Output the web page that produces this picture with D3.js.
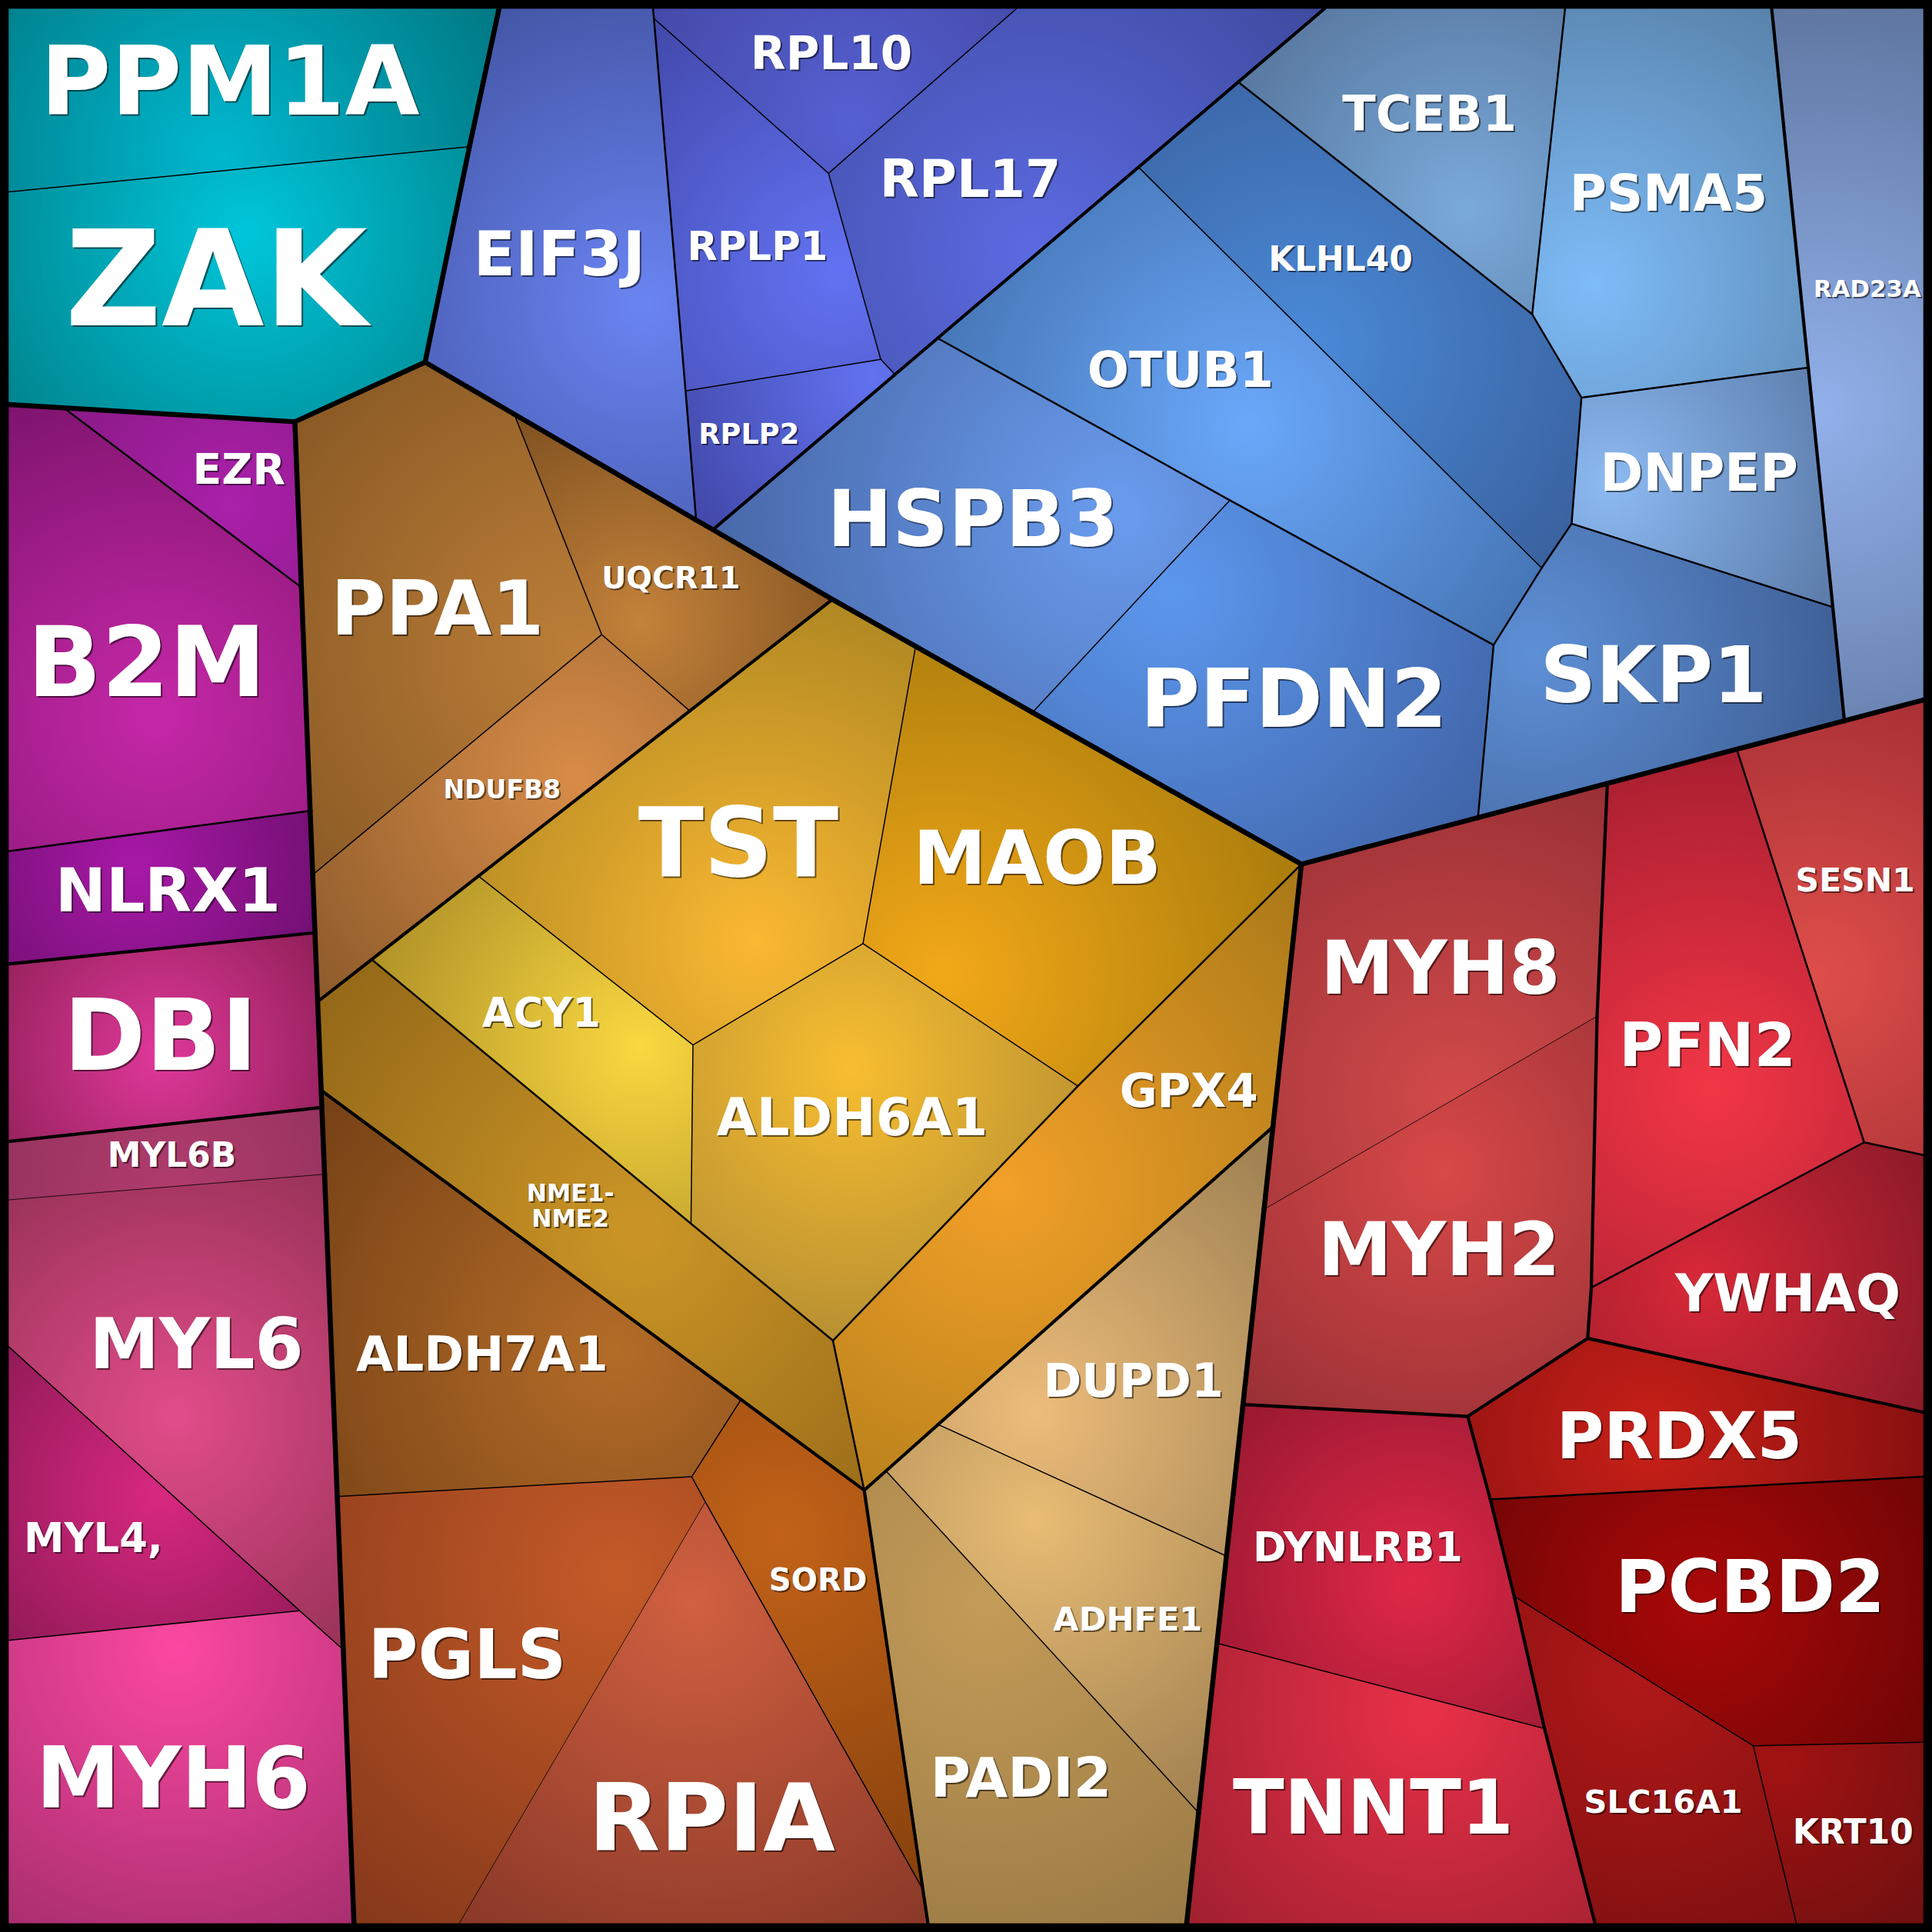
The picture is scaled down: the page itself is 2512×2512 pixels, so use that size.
<!DOCTYPE html>
<html>
<head>
<meta charset="utf-8">
<script src="https://cdn.jsdelivr.net/npm/d3@7"></script>
<style>
  body { margin: 0; background: #000; }
  svg { display: block; }
</style>
</head>
<body>
<div id="container"></div>
<script>
/* CONSTANTS AND GLOBALS */
const width = 2512,
  height = 2512,
  grid = 1568;

// line width by how deep two neighbouring cells share their hierarchy
const depthWidth = [6.5, 4.2, 2.5, 1.5, 0.8];

/* DATA */
const proteins = ["PPM1A", "ZAK", "EIF3J", "RPL10", "RPL17", "RPLP1", "RPLP2",
  "TCEB1", "PSMA5", "RAD23A", "DNPEP", "KLHL40", "OTUB1", "HSPB3", "SKP1", "PFDN2",
  "EZR", "B2M", "NLRX1", "DBI", "MYL6B", "MYL6", "MYL4,", "MYH6",
  "PPA1", "UQCR11", "NDUFB8", "TST", "MAOB", "ACY1", "ALDH6A1", "NME1-\nNME2", "GPX4",
  "DUPD1", "ADHFE1", "PADI2", "ALDH7A1", "PGLS", "SORD", "RPIA",
  "MYH8", "MYH2", "PFN2", "SESN1", "YWHAQ", "PRDX5", "PCBD2", "SLC16A1", "KRT10",
  "DYNLRB1", "TNNT1"]

// hierarchy path of each protein
const hierarchy = {
  "PPM1A": "teal/t/t", "ZAK": "teal/t/t",
  "EIF3J": "blue/rpl/e", "RPL10": "blue/rpl/r", "RPL17": "blue/rpl/r", "RPLP1": "blue/rpl/r", "RPLP2": "blue/rpl/r",
  "RAD23A": "blue/rad",
  "TCEB1": "blue/lb/t", "PSMA5": "blue/lb/p", "DNPEP": "blue/lb/d", "SKP1": "blue/lb/s",
  "KLHL40": "blue/lb/ko", "OTUB1": "blue/lb/ko", "HSPB3": "blue/lb/hp", "PFDN2": "blue/lb/hp",
  "EZR": "left/e", "B2M": "left/e", "NLRX1": "left/e", "DBI": "left/d",
  "MYL6B": "left/m/m/a", "MYL6": "left/m/m/a", "MYL4,": "left/m/m/c", "MYH6": "left/m/m/h",
  "PPA1": "or/ppa/x", "UQCR11": "or/ppa/x", "NDUFB8": "or/ppa/x",
  "TST": "or/gold/c", "MAOB": "or/gold/c", "ACY1": "or/gold/c", "ALDH6A1": "or/gold/c",
  "NME1-\nNME2": "or/gold/n", "GPX4": "or/gold/g",
  "DUPD1": "or/tan/t", "ADHFE1": "or/tan/t", "PADI2": "or/tan/t",
  "ALDH7A1": "or/al/a/x", "SORD": "or/al/a/s", "PGLS": "or/al/a/p", "RPIA": "or/al/a/p",
  "MYH8": "red/m/m/m", "MYH2": "red/m/m/m",
  "PFN2": "red/p", "SESN1": "red/p", "YWHAQ": "red/p",
  "PRDX5": "red/c/x", "PCBD2": "red/c/y", "SLC16A1": "red/c/y", "KRT10": "red/c/y",
  "DYNLRB1": "red/b/b", "TNNT1": "red/b/b"
}

// cell outlines
const outlines = {
  "PPM1A": [[7,7],[405,7],[381,119],[7,155.7]],
  "ZAK": [[7,155.7],[381,119],[345,294],[239.3,342.3],[51.7,331],[7,328.3]],
  "EIF3J": [[405,7],[530,7],[530.7,15],[556.4,317.3],[565,422.1],[417.3,336.1],[345,294],[381,119]],
  "RPL10": [[530,7],[825,7],[672.4,140.7],[530.7,15]],
  "RPL17": [[672.4,140.7],[825,7],[1075,7],[1005,66.6],[924,135.7],[761,274.5],[726.4,304],[714.8,291.7]],
  "RPLP1": [[530.7,15],[672.4,140.7],[714.8,291.7],[556.4,317.3]],
  "RPLP2": [[556.4,317.3],[714.8,291.7],[726.4,304],[578.7,429.9],[565,422.1]],
  "TCEB1": [[1005,66.6],[1075,7],[1270.2,7],[1243.5,255]],
  "PSMA5": [[1270.2,7],[1437.9,7],[1467.6,298.3],[1283.5,322.7],[1243.5,255]],
  "RAD23A": [[1437.9,7],[1561,7],[1561,568.1],[1496.9,585],[1487.5,492.7],[1467.6,298.3]],
  "DNPEP": [[1283.5,322.7],[1467.6,298.3],[1487.5,492.7],[1275.5,425]],
  "KLHL40": [[924,135.7],[1005,66.6],[1243.5,255],[1283.5,322.7],[1275.5,425],[1251.2,461]],
  "OTUB1": [[761,274.5],[924,135.7],[1251.2,461],[1212.2,523.5],[998.1,406]],
  "HSPB3": [[578.7,429.9],[726.4,304],[761,274.5],[998.1,406],[838,578.2],[675.6,486.5]],
  "SKP1": [[1275.5,425],[1487.5,492.7],[1496.9,585],[1409.5,608.1],[1304.5,635.8],[1199.5,663.6],[1212.2,523.5],[1251.2,461]],
  "PFDN2": [[998.1,406],[1212.2,523.5],[1199.5,663.6],[1056.2,701.4],[838,578.2]],
  "EZR": [[51.7,331],[239.3,342.3],[244.6,476.7]],
  "B2M": [[7,328.3],[51.7,331],[244.6,476.7],[251.7,658],[7,690.8]],
  "NLRX1": [[7,690.8],[251.7,658],[253.8,710],[255.6,757],[7,782.4]],
  "DBI": [[7,782.4],[255.6,757],[257.8,813],[260.7,885],[261.2,898.8],[7,926.4]],
  "MYL6B": [[7,926.4],[261.2,898.8],[263.4,953],[7,973.8]],
  "MYL6": [[7,973.8],[263.4,953],[273.7,1214.5],[278.6,1338.9],[243.3,1307.3],[7,1092.9]],
  "MYL4,": [[7,1092.9],[243.3,1307.3],[7,1331.2]],
  "MYH6": [[7,1331.2],[243.3,1307.3],[278.6,1338.9],[287.3,1561],[7,1561]],
  "PPA1": [[239.3,342.3],[345,294],[417.3,336.1],[488.3,515],[253.8,710],[251.7,658],[244.6,476.7]],
  "UQCR11": [[417.3,336.1],[565,422.1],[578.7,429.9],[675.6,486.5],[559.8,577],[488.3,515]],
  "NDUFB8": [[253.8,710],[488.3,515],[559.8,577],[388.3,711],[301.7,778.7],[257.8,813],[255.6,757]],
  "TST": [[675.6,486.5],[743.1,524.6],[700.4,765.8],[562.4,848.1],[388.3,711],[559.8,577]],
  "MAOB": [[743.1,524.6],[838,578.2],[1056.2,701.4],[874.8,881.4],[700.4,765.8]],
  "ACY1": [[388.3,711],[562.4,848.1],[560.8,993.1],[301.7,778.7]],
  "ALDH6A1": [[562.4,848.1],[700.4,765.8],[874.8,881.4],[676,1088],[560.8,993.1]],
  "NME1-\nNME2": [[301.7,778.7],[560.8,993.1],[676,1088],[701.4,1209.5],[601.4,1135.9],[260.7,885],[257.8,813]],
  "GPX4": [[874.8,881.4],[1056.2,701.4],[1033.1,914.5],[761.4,1156.1],[719.1,1193.8],[701.4,1209.5],[676,1088]],
  "DUPD1": [[761.4,1156.1],[1033.1,914.5],[1025.9,981.5],[1008.8,1139.9],[995.4,1262.9]],
  "ADHFE1": [[719.1,1193.8],[761.4,1156.1],[995.4,1262.9],[987.7,1333.6],[972.8,1471.2]],
  "PADI2": [[701.4,1209.5],[719.1,1193.8],[972.8,1471.2],[963.1,1561],[753.1,1561],[749,1533.5]],
  "ALDH7A1": [[260.7,885],[601.4,1135.9],[561.4,1198.5],[273.7,1214.5],[263.4,953],[261.2,898.8]],
  "PGLS": [[273.7,1214.5],[561.4,1198.5],[572.4,1218.9],[372.7,1561],[287.3,1561],[278.6,1338.9]],
  "SORD": [[601.4,1135.9],[701.4,1209.5],[749,1533.5],[572.4,1218.9],[561.4,1198.5]],
  "RPIA": [[572.4,1218.9],[749,1533.5],[753.1,1561],[372.7,1561]],
  "MYH8": [[1056.2,701.4],[1199.5,663.6],[1304.5,635.8],[1296.2,824.8],[1025.9,981.5],[1033.1,914.5]],
  "MYH2": [[1025.9,981.5],[1296.2,824.8],[1291.5,1045],[1288.5,1086.2],[1191.2,1149.5],[1008.8,1139.9]],
  "PFN2": [[1304.5,635.8],[1409.5,608.1],[1512.9,927.1],[1291.5,1045],[1296.2,824.8]],
  "SESN1": [[1409.5,608.1],[1496.9,585],[1561,568.1],[1561,937.4],[1512.9,927.1]],
  "YWHAQ": [[1512.9,927.1],[1561,937.4],[1561,1146.2],[1288.5,1086.2],[1291.5,1045]],
  "PRDX5": [[1191.2,1149.5],[1288.5,1086.2],[1561,1146.2],[1561,1198.5],[1209.5,1216.9]],
  "PCBD2": [[1209.5,1216.9],[1561,1198.5],[1561,1413.9],[1422.9,1416.9],[1228.9,1295.5]],
  "SLC16A1": [[1228.9,1295.5],[1422.9,1416.9],[1457.9,1561],[1294.5,1561],[1253.5,1402.9]],
  "KRT10": [[1422.9,1416.9],[1561,1413.9],[1561,1561],[1457.9,1561]],
  "DYNLRB1": [[1008.8,1139.9],[1191.2,1149.5],[1209.5,1216.9],[1228.9,1295.5],[1253.5,1402.9],[987.7,1333.6],[995.4,1262.9]],
  "TNNT1": [[987.7,1333.6],[1253.5,1402.9],[1294.5,1561],[963.1,1561],[972.8,1471.2]]
}

/* STYLES */
// [light centre, dark rim, centre x, centre y] of each cell's glow
const shading = {
  "PPM1A": ["#00b8cf", "#007883", 180, 127], "ZAK": ["#00c6da", "#00858f", 200, 190],
  "EIF3J": ["#6a84f2", "#4456a6", 522, 247], "RPL10": ["#5560d2", "#4549a8", 690, 100],
  "RPL17": ["#5c6ae2", "#3e4a9e", 840, 205], "RPLP1": ["#6272f2", "#4248aa", 680, 220],
  "RPLP2": ["#6272f0", "#4248a8", 708, 305], "TCEB1": ["#7aaada", "#5878a0", 1190, 170],
  "PSMA5": ["#7ebcf8", "#5882aa", 1293, 230], "RAD23A": ["#92b0ea", "#5e76a0", 1476, 333],
  "DNPEP": ["#8cbaf2", "#5a7aa8", 1306, 393], "KLHL40": ["#4a8ad8", "#3a62a0", 1060, 280],
  "OTUB1": ["#6aa8fa", "#4676b6", 1013, 345], "HSPB3": ["#6a9cee", "#4868a8", 906, 417],
  "SKP1": ["#5e90d6", "#3e5e94", 1246, 530], "PFDN2": ["#5c98ee", "#4064a8", 950, 480],
  "EZR": ["#aa20aa", "#8a1a86", 187, 410], "B2M": ["#c628a8", "#7e146e", 127, 580],
  "NLRX1": ["#a818a8", "#721072", 110, 703], "DBI": ["#e0389a", "#902058", 130, 856],
  "MYL6B": ["#b03c6c", "#983360", 140, 965], "MYL6": ["#e24c8a", "#983258", 143, 1150],
  "MYL4,": ["#d82880", "#921a58", 130, 1213], "MYH6": ["#fc48a2", "#a82e6e", 143, 1339],
  "PPA1": ["#bc7e38", "#8a5a25", 467, 525], "UQCR11": ["#c4823a", "#7e5020", 520, 505],
  "NDUFB8": ["#d88c48", "#8c5a2a", 467, 630], "TST": ["#fab832", "#b08822", 613, 763],
  "MAOB": ["#f2a818", "#aa7c0c", 766, 790], "ACY1": ["#fad840", "#b09228", 520, 850],
  "ALDH6A1": ["#f8be30", "#b89032", 690, 866], "NME1-\nNME2": ["#cc9626", "#946818", 520, 1000],
  "GPX4": ["#f2a028", "#a87818", 813, 963], "DUPD1": ["#ecbc7a", "#9a7e50", 840, 1146],
  "ADHFE1": ["#e8bc74", "#a08050", 840, 1233], "PADI2": ["#c49c58", "#9a7a45", 800, 1300],
  "ALDH7A1": ["#b46c28", "#744015", 500, 1096], "PGLS": ["#c45a28", "#85381a", 500, 1279],
  "SORD": ["#c26218", "#85400c", 633, 1246], "RPIA": ["#d06040", "#8a3828", 563, 1300],
  "MYH8": ["#d24a4a", "#983035", 1180, 890], "MYH2": ["#d84848", "#983035", 1170, 950],
  "PFN2": ["#f23646", "#a81f30", 1389, 883], "SESN1": ["#de4e4a", "#a83035", 1476, 790],
  "YWHAQ": ["#d82838", "#8c1a28", 1380, 1040], "PRDX5": ["#c82018", "#881010", 1339, 1166],
  "PCBD2": ["#aa0808", "#700505", 1380, 1300], "SLC16A1": ["#b01818", "#801010", 1330, 1363],
  "KRT10": ["#a21212", "#701010", 1446, 1430], "DYNLRB1": ["#e02848", "#981830", 1146, 1283],
  "TNNT1": ["#e83048", "#a02030", 1156, 1390]
}

// [centre x, centre y of capitals, font size]
const labelStyle = {
  "PPM1A": [186.7, 64.7, 78.3], "ZAK": [175.5, 225, 107.8], "EIF3J": [454, 205.4, 49.8],
  "RPL10": [674.8, 42.5, 37.2], "RPL17": [787.5, 144.5, 41.7], "RPLP1": [614.8, 199.3, 32],
  "RPLP2": [607.8, 351.7, 22.9], "TCEB1": [1160.2, 91.3, 39.8], "PSMA5": [1354.2, 155.8, 41],
  "RAD23A": [1515.5, 233.7, 19.2], "KLHL40": [1088, 210, 27.4], "OTUB1": [958.1, 299.5, 39.8],
  "DNPEP": [1379, 383, 42.1], "HSPB3": [789.8, 420, 63.2], "SKP1": [1342, 546.8, 63],
  "PFDN2": [1050, 565.6, 65.9], "EZR": [194, 380.3, 34.5], "B2M": [119, 536, 79],
  "PPA1": [355, 492.8, 60.8], "UQCR11": [544.5, 468.3, 24.7], "NDUFB8": [407.5, 640.6, 20.6],
  "TST": [599.2, 682.3, 78], "MAOB": [841.8, 695.3, 59.6], "NLRX1": [136.3, 721.8, 49.3],
  "DBI": [130.3, 839.3, 80.3], "ACY1": [439.3, 821.1, 32.9], "GPX4": [964.8, 884.8, 37.2],
  "ALDH6A1": [691.6, 906.1, 42], "MYH8": [1169, 784.9, 59.8], "PFN2": [1385.8, 847.5, 48.6],
  "SESN1": [1505.7, 713.5, 26.5], "MYL6B": [139.5, 937.1, 27.4], "NME1-\nNME2": [463, 978.4, 19.6],
  "MYH2": [1167.9, 1012.8, 60.5], "YWHAQ": [1451, 1049, 42.7], "MYL6": [159.5, 1089.6, 57],
  "ALDH7A1": [391.3, 1098.2, 39], "DUPD1": [919.8, 1120, 37.5], "PRDX5": [1362.9, 1164.5, 52.5],
  "MYL4,": [75.8, 1247.5, 32.9], "DYNLRB1": [1102, 1254.9, 32.9], "SORD": [663.9, 1282, 25.1],
  "PCBD2": [1420.4, 1287, 58.4], "ADHFE1": [915.3, 1313.7, 26.9], "PGLS": [379.2, 1342, 55.3],
  "PADI2": [828.6, 1441.7, 44.4], "MYH6": [140.7, 1442, 68.6], "TNNT1": [1114.5, 1465.9, 61],
  "SLC16A1": [1349.9, 1461.7, 26], "RPIA": [577.7, 1474.2, 75.7], "KRT10": [1503.9, 1486.2, 27.4]
}

/* SCALES */
const xScale = d3.scaleLinear().domain([0, grid]).range([0, width])
const yScale = d3.scaleLinear().domain([0, grid]).range([0, height])
const px = d3.scaleLinear().domain([0, grid]).range([0, width]) // lengths

/* HTML ELEMENTS */
const svg = d3.select("#container")
  .append("svg")
  .attr("width", width)
  .attr("height", height)

svg.append("rect")
  .attr("width", width)
  .attr("height", height)
  .attr("fill", "#000")

// radial glow per cell
const defs = svg.append("defs")
proteins.forEach((p, i) => {
  const [c0, c1, gx, gy] = shading[p]
  const r = d3.max(outlines[p], v => Math.hypot(v[0] - gx, v[1] - gy))
  const g = defs.append("radialGradient")
    .attr("id", "glow" + i)
    .attr("gradientUnits", "userSpaceOnUse")
    .attr("cx", xScale(gx)).attr("cy", yScale(gy))
    .attr("r", px(r))
  g.append("stop").attr("offset", 0).attr("stop-color", c0)
  g.append("stop").attr("offset", 1).attr("stop-color", c1)
})

const line = d3.line().x(d => xScale(d[0])).y(d => yScale(d[1])).curve(d3.curveLinearClosed)

// cells
svg.selectAll("path.cell")
  .data(proteins)
  .join("path")
  .attr("class", "cell")
  .attr("d", p => line(outlines[p]))
  .attr("fill", (p, i) => `url(#glow${i})`)
  .attr("stroke", (p, i) => `url(#glow${i})`)
  .attr("stroke-width", 0.6)

/* BORDERS */
// split every edge at vertices lying on it, then weight each piece by the
// depth the two cells on either side still have in common
const key = v => v[0].toFixed(1) + "," + v[1].toFixed(1)
const vertices = new Map()
proteins.forEach(p => outlines[p].forEach(v => vertices.set(key(v), v)))
const vlist = [...vertices.values()]

const pieces = new Map()
proteins.forEach(p => {
  const poly = outlines[p]
  poly.forEach((a, i) => {
    const b = poly[(i + 1) % poly.length]
    const dx = b[0] - a[0], dy = b[1] - a[1], len2 = dx * dx + dy * dy
    const inner = []
    vlist.forEach(v => {
      const t = ((v[0] - a[0]) * dx + (v[1] - a[1]) * dy) / len2
      if (t <= 0.002 || t >= 0.998) return
      const d = Math.hypot(v[0] - (a[0] + t * dx), v[1] - (a[1] + t * dy))
      if (d < 1.3) inner.push({ v, t })
    })
    inner.sort((m, n) => m.t - n.t)
    const chain = [a, ...inner.map(o => o.v), b]
    for (let j = 0; j < chain.length - 1; j++) {
      const k = [key(chain[j]), key(chain[j + 1])].sort().join("|")
      if (!pieces.has(k)) pieces.set(k, { a: chain[j], b: chain[j + 1], cells: [] })
      pieces.get(k).cells.push(p)
    }
  })
})

const shared = (p, q) => {
  const a = hierarchy[p].split("/"), b = hierarchy[q].split("/")
  let d = 0
  while (d < a.length && d < b.length && a[d] === b[d]) d++
  return d
}

const borders = [...pieces.values()]
  .filter(e => e.cells.length > 1)
  .map(e => ({ ...e, w: depthWidth[Math.min(shared(e.cells[0], e.cells[1]), depthWidth.length - 1)] }))
  .sort((m, n) => m.w - n.w)

svg.append("g")
  .selectAll("line")
  .data(borders)
  .join("line")
  .attr("x1", d => xScale(d.a[0]))
  .attr("y1", d => yScale(d.a[1]))
  .attr("x2", d => xScale(d.b[0]))
  .attr("y2", d => yScale(d.b[1]))
  .attr("stroke", "#000")
  .attr("stroke-width", d => d.w)
  .attr("stroke-linecap", "round")

// frame
svg.append("rect")
  .attr("x", xScale(3.5)).attr("y", yScale(3.5))
  .attr("width", xScale(grid - 7)).attr("height", yScale(grid - 7))
  .attr("fill", "none")
  .attr("stroke", "#000")
  .attr("stroke-width", px(7))

/* LABELS */
const labels = svg.append("g")
  .attr("font-family", "'DejaVu Sans', sans-serif")
  .attr("font-weight", "bold")
  .attr("text-anchor", "middle")

function addLabel(p, dx, dy, fill, opacity) {
  const [cx, cy, fs] = labelStyle[p]
  const rows = p.split("\n")
  const size = px(fs)
  const t = labels.append("text")
    .attr("font-size", size)
    .attr("fill", fill)
    .attr("fill-opacity", opacity)
  rows.forEach((row, i) => {
    const off = (i - (rows.length - 1) / 2) * 1.05 * size + 0.3645 * size
    t.append("tspan")
      .attr("x", xScale(cx) + dx)
      .attr("y", yScale(cy) + off + dy)
      .text(row)
  })
}

proteins.forEach(p => addLabel(p, 2, 2, "#000", 0.55))
proteins.forEach(p => addLabel(p, 0, 0, "#fff", 1))
</script>
